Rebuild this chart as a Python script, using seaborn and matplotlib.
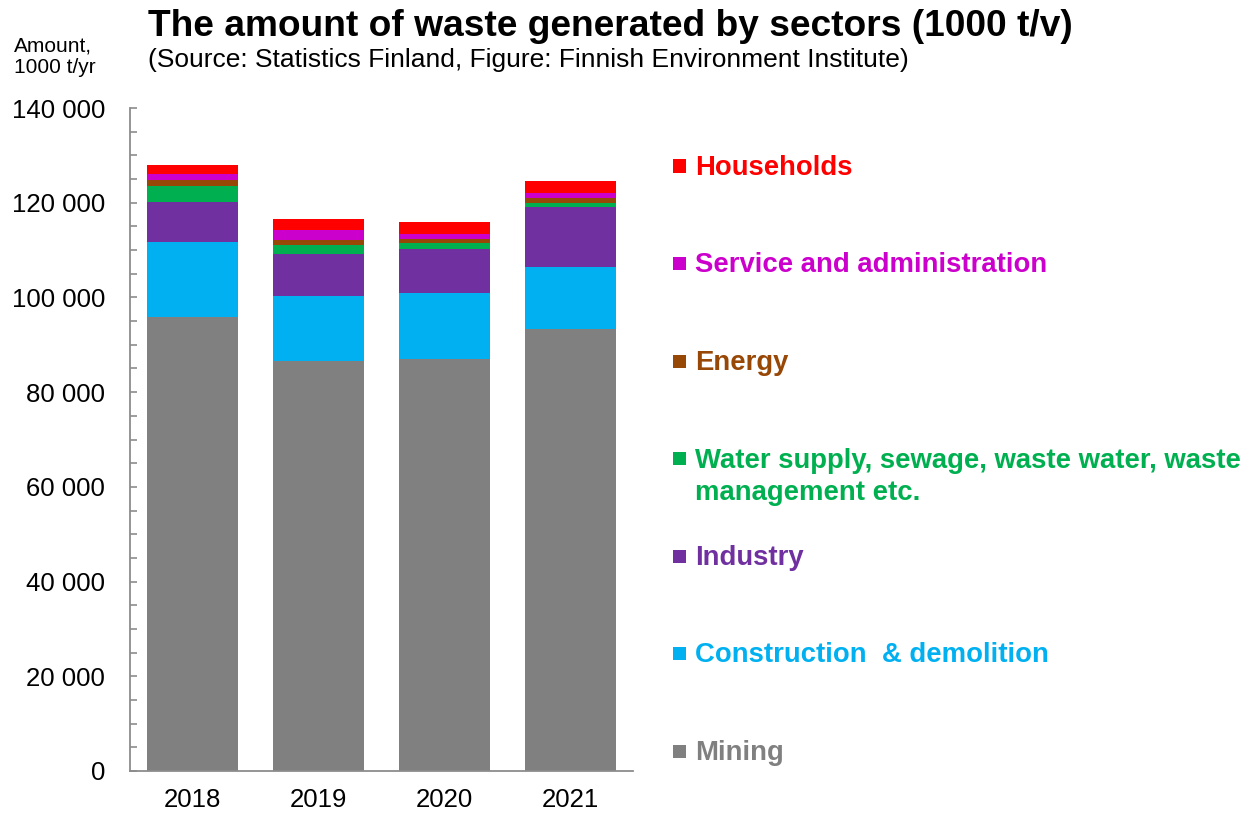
import numpy as np
import pandas as pd
import matplotlib
matplotlib.use("Agg")
import matplotlib.pyplot as plt
from matplotlib.patches import Rectangle
from matplotlib.ticker import MultipleLocator, FuncFormatter
import seaborn as sns

# ---- data (1000 t/yr) ----
years = ["2018", "2019", "2020", "2021"]
mining = [95900, 86600, 87000, 93400]
construction = [15700, 13800, 13870, 13030]
industry = [8450, 8870, 9350, 12600]
water = [3500, 1770, 1200, 910]
energy = [1260, 1190, 840, 990]
service = [1150, 2040, 1190, 1190]
households = [2000, 2260, 2470, 2530]

sectors = ["Mining", "Construction  & demolition", "Industry",
           "Water supply, sewage, waste water, waste\nmanagement etc.",
           "Energy", "Service and administration", "Households"]
series = [mining, construction, industry, water, energy, service, households]
colors = ["#808080", "#00B0F0", "#7030A0", "#00B050", "#974706", "#CC00CC", "#FF0000"]

sns.set_style("white")
plt.rcParams["font.family"] = ["Liberation Sans", "DejaVu Sans"]
plt.rcParams["text.color"] = "black"
plt.rcParams["xtick.color"] = "black"
plt.rcParams["ytick.color"] = "black"

W, H = 1258, 815
fig = plt.figure(figsize=(W / 100, H / 100), dpi=100)
ax = fig.add_axes([130 / W, (H - 771) / H, (633 - 130) / W, (771 - 108) / H])

cum = np.cumsum(np.array(series, dtype=float), axis=0)
# draw from the top segment down so lower stacks overlay
for i in range(len(series) - 1, -1, -1):
    df = pd.DataFrame({"year": years, "value": cum[i]})
    sns.barplot(data=df, x="year", y="value", color=colors[i], saturation=1,
                width=0.725, linewidth=0, errorbar=None, ax=ax)

ax.set_xlim(-0.5, 3.5)
ax.set_ylim(0, 140000)
ax.yaxis.set_major_locator(MultipleLocator(20000))
ax.yaxis.set_minor_locator(MultipleLocator(5000))
ax.yaxis.set_major_formatter(FuncFormatter(lambda v, p: f"{int(v):,}".replace(",", " ")))
ax.set_xlabel("")
ax.set_ylabel("")
for s in ["top", "right"]:
    ax.spines[s].set_visible(False)
for s in ["left", "bottom"]:
    ax.spines[s].set_color("#8c8c8c")
    ax.spines[s].set_linewidth(1.3)
ax.tick_params(axis="y", which="both", direction="in", length=5, width=1.2,
               color="#8c8c8c", labelsize=18.5, pad=18, labelcolor="black", left=True)
ax.tick_params(axis="x", length=0, labelsize=18.5, pad=12, labelcolor="black")

# titles
fig.text(148 / W, 1 - 36 / H, "The amount of waste generated by sectors (1000 t/v)",
         fontsize=26.7, fontweight="bold", va="baseline", ha="left", color="black")
fig.text(148 / W, 1 - 67 / H, "(Source: Statistics Finland, Figure: Finnish Environment Institute)",
         fontsize=19, va="baseline", ha="left", color="black")
fig.text(14 / W, 1 - 52 / H, "Amount,", fontsize=15, va="baseline", ha="left", color="black")
fig.text(14 / W, 1 - 73 / H, "1000 t/yr", fontsize=15, va="baseline", ha="left", color="black")

# legend (top entry = last stacked series)
sq = 13
for k, i in enumerate(range(len(series) - 1, -1, -1)):
    yc = 166 + k * 97.5
    fig.patches.append(Rectangle((673 / W, 1 - (yc + sq / 2) / H), sq / W, sq / H,
                                 transform=fig.transFigure, facecolor=colors[i],
                                 edgecolor="none"))
    for j, line in enumerate(sectors[i].split("\n")):
        fig.text(695 / W, 1 - (yc + 9 + j * 32) / H, line, fontsize=19.8,
                 fontweight="bold", color=colors[i], va="baseline", ha="left")

fig.savefig("out.png", dpi=100)
